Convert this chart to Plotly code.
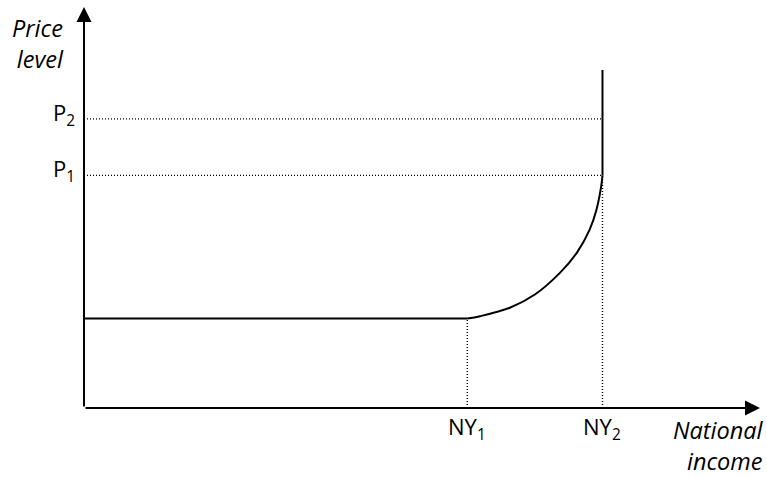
import plotly.graph_objects as go

# ---- data (abstract units) ----
NY1 = 56.7          # national income where prices start to rise
NY2 = 76.7          # full-capacity national income
P_floor = 22.3      # constant price level on the flat segment
P1 = 58.0
P2 = 72.1
P_top = 84.3        # top of vertical segment

curve_x = [NY1, 58.6, 63.0, 66.7, 70.4, 72.9, 74.8, 75.8, 76.5, NY2]
curve_y = [P_floor, 22.9, 25.0, 28.3, 33.7, 38.7, 44.5, 49.4, 55.2, P1]

x_labels = ["NY<sub>1</sub>", "NY<sub>2</sub>"]
y_labels = ["P<sub>1</sub>", "P<sub>2</sub>"]
y_title = "<i>Price<br>level</i>"
x_title = "<i>National<br>income</i>"

FONT = "Open Sans"
FS = 22
FSI = 23.5

L, R, T, B = 84, 7, 7, 70
W, H = 767, 478
PW = W - L - R       # 676
PH = H - T - B       # 401

fig = go.Figure()

dot = dict(color="black", width=1.4, dash="1px,2px")
for p in (P1, P2):
    fig.add_trace(go.Scatter(x=[0, NY2], y=[p, p], mode="lines", line=dot,
                             hoverinfo="skip", showlegend=False))
fig.add_trace(go.Scatter(x=[NY1, NY1], y=[0, P_floor], mode="lines", line=dot,
                         hoverinfo="skip", showlegend=False))
fig.add_trace(go.Scatter(x=[NY2, NY2], y=[0, P1], mode="lines", line=dot,
                         hoverinfo="skip", showlegend=False))

solid = dict(color="black", width=2)
fig.add_trace(go.Scatter(x=[0, NY1], y=[P_floor, P_floor], mode="lines", line=solid,
                         hoverinfo="skip", showlegend=False))
fig.add_trace(go.Scatter(x=curve_x, y=curve_y, mode="lines",
                         line=dict(color="black", width=2, shape="spline", smoothing=1),
                         hoverinfo="skip", showlegend=False))
fig.add_trace(go.Scatter(x=[NY2, NY2], y=[P1, P_top], mode="lines", line=solid,
                         hoverinfo="skip", showlegend=False))

ann = []
ann.append(dict(x=1.0, y=0, xref="paper", yref="paper", ax=-PW, ay=0,
                showarrow=True, arrowhead=2, arrowsize=1.5, arrowwidth=2,
                arrowcolor="black", text=""))
ann.append(dict(x=0, y=1.0, xref="paper", yref="paper", ax=0, ay=PH,
                showarrow=True, arrowhead=2, arrowsize=1.5, arrowwidth=2,
                arrowcolor="black", text=""))

tf = dict(family=FONT, size=FS, color="black")
for xv, lab in zip([NY1, NY2], x_labels):
    ann.append(dict(x=xv, y=-0.006, xref="x", yref="paper", text=lab, showarrow=False,
                    xanchor="center", yanchor="top", borderpad=0, font=tf))
for yv, lab in zip([P1, P2], y_labels):
    ann.append(dict(x=-0.012, y=yv, xref="paper", yref="y", text=lab, showarrow=False,
                    xanchor="right", yanchor="middle", yshift=5, borderpad=0, font=tf))

itf = dict(family=FONT, size=FSI, color="black")
ann.append(dict(x=-0.028, y=0.908, xref="paper", yref="paper", text=y_title,
                showarrow=False, xanchor="right", yanchor="middle", align="right",
                borderpad=0, font=itf))
ann.append(dict(x=1.008, y=-(H - (T + PH)) / PH, xref="paper", yref="paper", text=x_title,
                showarrow=False, xanchor="right", yanchor="bottom", align="right",
                borderpad=0, font=itf))

fig.update_layout(
    width=W, height=H,
    margin=dict(l=L, r=R, t=T, b=B),
    paper_bgcolor="white", plot_bgcolor="white",
    xaxis=dict(range=[0, 100], visible=False, fixedrange=True),
    yaxis=dict(range=[0, 100], visible=False, fixedrange=True),
    annotations=ann,
    showlegend=False,
)

fig.write_html("out.html", config={"displayModeBar": False},
               post_script="document.body.style.margin='0';document.body.style.overflow='hidden';")
